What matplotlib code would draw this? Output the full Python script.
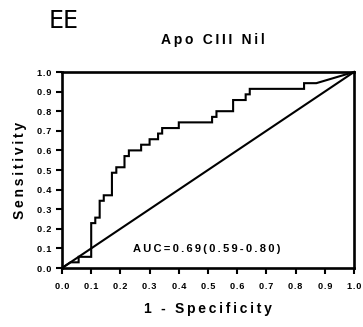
import matplotlib
matplotlib.use('Agg')
import matplotlib.pyplot as plt

# ROC curve vertices (1 - specificity, sensitivity)
fpr = [0.0, 0.029, 0.057, 0.057, 0.1, 0.1, 0.114, 0.114, 0.129, 0.129,
       0.143, 0.143, 0.171, 0.171, 0.186, 0.186, 0.214, 0.214, 0.229, 0.229,
       0.271, 0.271, 0.3, 0.3, 0.329, 0.329, 0.343, 0.343, 0.4, 0.4,
       0.514, 0.514, 0.529, 0.529, 0.586, 0.586, 0.629, 0.629, 0.643, 0.643,
       0.829, 0.829, 0.871, 1.0]
tpr = [0.0, 0.029, 0.029, 0.057, 0.057, 0.229, 0.229, 0.257, 0.257, 0.343,
       0.343, 0.371, 0.371, 0.486, 0.486, 0.514, 0.514, 0.571, 0.571, 0.6,
       0.6, 0.629, 0.629, 0.657, 0.657, 0.686, 0.686, 0.714, 0.714, 0.743,
       0.743, 0.771, 0.771, 0.8, 0.8, 0.857, 0.857, 0.886, 0.886, 0.914,
       0.914, 0.943, 0.943, 1.0]
ref_x = [0.0, 1.0]
ref_y = [0.0, 1.0]
ticks = [0.0, 0.1, 0.2, 0.3, 0.4, 0.5, 0.6, 0.7, 0.8, 0.9, 1.0]
panel = 'EE'
title = 'Apo CIII Nil'
auc_text = 'AUC=0.69(0.59-0.80)'

fam = ['Liberation Sans', 'DejaVu Sans']


def spaced(s, sp='\u2009'):
    # GraphPad style letter spacing
    return sp.join(s)


fig = plt.figure(figsize=(3.63, 3.27), dpi=100)
ax = fig.add_axes([62/363, 1-268/327, 292/363, 196/327])

ax.plot(fpr, tpr, color='black', lw=1.5, clip_on=False, solid_joinstyle='miter')
ax.plot(ref_x, ref_y, color='black', lw=1.5, clip_on=False)

ax.set_xlim(0, 1)
ax.set_ylim(0, 1)
ax.set_xticks(ticks)
ax.set_yticks(ticks)
ax.set_xticklabels([spaced('%.1f' % t, '\u200a') for t in ticks], family=fam,
                   fontweight='bold', fontsize=6.6)
ax.set_yticklabels([spaced('%.1f' % t, '\u200a') for t in ticks], family=fam,
                   fontweight='bold', fontsize=6.6)
ax.tick_params(axis='both', direction='out', length=4, width=1.5)
ax.tick_params(axis='x', pad=6)
ax.tick_params(axis='y', pad=4)
for s in ax.spines.values():
    s.set_linewidth(1.9)

ax.set_xlabel(spaced('1 - Specificity'), family=fam, fontweight='bold',
              fontsize=10, labelpad=8)
ax.set_ylabel(spaced('Sensitivity'), family=fam, fontweight='bold',
              fontsize=10, labelpad=7)

ax.text(0.243, 0.097, spaced(auc_text), family=fam, fontweight='bold',
        fontsize=8, va='center', ha='left')

fig.text(213/363, 1-44.3/327, spaced(title), family=fam, fontweight='bold',
         fontsize=10, ha='center', va='baseline')
fig.text(49/363, 1-27.7/327, panel, family=['Liberation Sans Narrow', 'DejaVu Sans'],
         fontsize=17, ha='left', va='baseline')

fig.savefig('out.png', dpi=100)
